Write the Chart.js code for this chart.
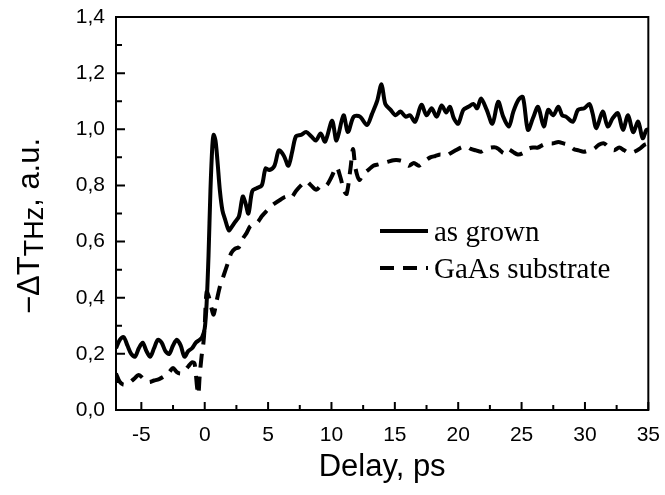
<!DOCTYPE html>
<html>
<head>
<meta charset="utf-8">
<script src="https://cdn.jsdelivr.net/npm/chart.js@4.4.1/dist/chart.umd.min.js"></script>
<style>
  html, body { margin: 0; padding: 0; background: #fff; }
  #wrap { width: 665px; height: 495px; }
</style>
</head>
<body>
<div id="wrap"><canvas id="chart" width="665" height="495"></canvas></div>
<script>
// Delay (ps) und Signal fuer "as grown"
const delayGrown = [-7.0, -6.7, -6.4, -6.1, -5.8, -5.5, -5.2, -4.9, -4.6, -4.3, -4.0, -3.7, -3.4, -3.1, -2.8, -2.5, -2.2, -1.9, -1.6, -1.3, -1.0, -0.7, -0.4, -0.2,
  0.0, 0.15, 0.3, 0.45, 0.6, 0.7, 0.85, 1.0, 1.2, 1.4, 1.6, 1.9, 2.1, 2.4, 2.7, 3.0, 3.2, 3.45, 3.75, 4.1, 4.5, 4.8, 5.1, 5.5, 5.85, 6.25, 6.6, 6.9,
  7.2, 7.6, 8.0, 8.4, 8.76, 9.15, 9.5, 10.05, 10.4, 10.95, 11.3, 11.75, 12.25, 12.8, 13.2, 13.6, 13.95, 14.25, 14.65, 15.05, 15.45, 15.85, 16.2, 16.6,
  17.1, 17.5, 17.9, 18.3, 18.7, 19.05, 19.35, 19.65, 20.0, 20.4, 20.8, 21.2, 21.5, 21.8, 22.25, 22.7, 23.15, 23.55, 24.0, 24.35, 24.75, 25.1, 25.5,
  25.9, 26.3, 26.75, 27.1, 27.5, 27.9, 28.2, 28.5, 29.05, 29.45, 29.95, 30.35, 30.6, 30.9, 31.4, 31.8, 32.2, 32.6, 33.0, 33.4, 33.8, 34.2, 34.55, 34.85, 35.0];
const signalGrown = [0.22, 0.25, 0.26, 0.23, 0.20, 0.19, 0.22, 0.24, 0.21, 0.19, 0.22, 0.25, 0.24, 0.21, 0.20, 0.23, 0.25, 0.23, 0.19, 0.21, 0.22, 0.24, 0.25, 0.26,
  0.29, 0.38, 0.55, 0.78, 0.94, 0.98, 0.96, 0.89, 0.78, 0.71, 0.68, 0.64, 0.65, 0.67, 0.69, 0.76, 0.74, 0.70, 0.78, 0.79, 0.80, 0.86, 0.855, 0.87, 0.925, 0.905, 0.87, 0.92,
  0.975, 0.98, 0.99, 0.975, 0.96, 0.985, 0.956, 1.03, 0.96, 1.05, 0.99, 1.045, 1.045, 1.015, 1.055, 1.10, 1.16, 1.09, 1.07, 1.05, 1.063, 1.045, 1.05, 1.027,
  1.087, 1.05, 1.075, 1.045, 1.085, 1.06, 1.08, 1.04, 1.02, 1.069, 1.08, 1.09, 1.075, 1.11, 1.069, 1.02, 1.098, 1.045, 1.01, 1.063, 1.105, 1.115, 0.998,
  1.04, 1.08, 1.01, 1.069, 1.05, 1.08, 1.05, 1.045, 1.027, 1.069, 1.075, 1.09, 1.057, 1.004, 1.063, 1.01, 1.04, 1.057, 0.998, 1.05, 0.99, 1.027, 0.968, 0.998, 1.0];

// Delay (ps) und Signal fuer "GaAs substrate"
const delaySubstrate = [-7.0, -6.7, -6.4, -6.0, -5.6, -5.2, -4.8, -4.4, -4.0, -3.6, -3.2, -2.8, -2.5, -2.2, -1.9, -1.6, -1.3, -1.0, -0.8, -0.6, -0.5, -0.4, -0.25, -0.1,
  0.0, 0.15, 0.35, 0.55, 0.7, 0.9, 1.2, 1.5, 1.8, 2.1, 2.4, 2.7, 3.0, 3.3, 3.6, 3.9, 4.2, 4.5, 4.8, 5.1, 5.5, 6.0, 6.4, 6.8, 7.2, 7.6, 8.0, 8.4, 8.8, 9.2, 9.6,
  10.0, 10.4, 10.7, 11.0, 11.2, 11.5, 11.7, 11.9, 12.2, 12.5, 12.9, 13.3, 13.7, 14.1, 14.5, 14.9, 15.3, 15.7, 16.1, 16.5, 16.9, 17.3, 17.8, 18.2, 18.6,
  19.0, 19.4, 19.8, 20.2, 20.6, 21.0, 21.4, 21.8, 22.2, 22.6, 23.0, 23.3, 23.6, 23.9, 24.3, 24.7, 25.1, 25.5, 25.9, 26.3, 26.7, 27.1, 27.5, 27.9, 28.3,
  28.7, 29.1, 29.5, 29.9, 30.3, 30.7, 31.1, 31.5, 31.9, 32.3, 32.7, 33.1, 33.5, 33.9, 34.3, 34.7, 35.0];
const signalSubstrate = [0.13, 0.10, 0.09, 0.095, 0.11, 0.125, 0.11, 0.10, 0.105, 0.11, 0.12, 0.135, 0.15, 0.135, 0.13, 0.14, 0.155, 0.17, 0.165, 0.08, 0.055, 0.12, 0.19, 0.24,
  0.30, 0.42, 0.40, 0.36, 0.34, 0.38, 0.44, 0.48, 0.52, 0.56, 0.575, 0.58, 0.61, 0.63, 0.655, 0.66, 0.67, 0.69, 0.705, 0.72, 0.735, 0.75, 0.76, 0.755, 0.78, 0.80, 0.815, 0.80, 0.785, 0.80, 0.80,
  0.83, 0.865, 0.83, 0.78, 0.77, 0.86, 0.93, 0.86, 0.82, 0.84, 0.855, 0.87, 0.875, 0.88, 0.885, 0.89, 0.89, 0.885, 0.87, 0.88, 0.87, 0.885, 0.90, 0.905, 0.91,
  0.905, 0.915, 0.925, 0.935, 0.94, 0.93, 0.925, 0.92, 0.93, 0.935, 0.935, 0.925, 0.915, 0.93, 0.92, 0.91, 0.915, 0.93, 0.935, 0.935, 0.945, 0.95, 0.95, 0.955, 0.95,
  0.945, 0.93, 0.925, 0.92, 0.925, 0.93, 0.945, 0.95, 0.935, 0.925, 0.935, 0.925, 0.915, 0.92, 0.93, 0.945, 0.95];

// Achsen
const xTicks = [-5, 0, 5, 10, 15, 20, 25, 30, 35];
const yTicks = [0, 0.2, 0.4, 0.6, 0.8, 1.0, 1.2, 1.4];
const seriesLabels = ['as grown', 'GaAs substrate'];

const toPoints = (xs, ys) => xs.map((x, i) => ({ x: x, y: ys[i] }));

// Rahmen, Ticks nach innen, Achsentitel und Legende
const decorPlugin = {
  id: 'decor',
  afterDraw(chart) {
    const ctx = chart.ctx;
    const a = chart.chartArea;
    const xs = chart.scales.x, ys = chart.scales.y;
    ctx.save();
    ctx.strokeStyle = '#000';
    ctx.lineWidth = 2;
    ctx.strokeRect(a.left, a.top, a.right - a.left, a.bottom - a.top);

    ctx.beginPath();
    for (let v = -5; v <= 35; v += 2.5) {
      const px = xs.getPixelForValue(v);
      const len = (v % 5 === 0) ? 8 : 5;
      ctx.moveTo(px, a.bottom);
      ctx.lineTo(px, a.bottom - len);
    }
    for (let i = 0; i <= 14; i++) {
      const py = ys.getPixelForValue(i / 10);
      const len = (i % 2 === 0) ? 9 : 6;
      ctx.moveTo(a.left, py);
      ctx.lineTo(a.left + len, py);
    }
    ctx.stroke();

    // y-Titel mit Index
    ctx.fillStyle = '#000';
    ctx.translate(28, 226);
    ctx.rotate(-Math.PI / 2);
    const big = '31px "Liberation Sans", Arial, sans-serif';
    const small = '27px "Liberation Sans", Arial, sans-serif';
    const p1 = '\u2212\u0394T', p2 = 'THz', p3 = ', a.u.';
    ctx.font = big;
    const w1 = ctx.measureText(p1).width, w3 = ctx.measureText(p3).width;
    ctx.font = small;
    const w2 = ctx.measureText(p2).width;
    let sx = -(w1 + w2 + w3) / 2;
    ctx.textBaseline = 'alphabetic';
    ctx.textAlign = 'left';
    ctx.font = big;
    ctx.fillText(p1, sx, 11);
    ctx.font = small;
    ctx.fillText(p2, sx + w1, 15);
    ctx.font = big;
    ctx.fillText(p3, sx + w1 + w2, 11);
    ctx.restore();

    // Legende
    ctx.save();
    ctx.strokeStyle = '#000';
    ctx.lineWidth = 4;
    ctx.font = '29px "Liberation Serif", "Times New Roman", serif';
    ctx.fillStyle = '#000';
    ctx.textBaseline = 'middle';
    chart.data.datasets.forEach((ds, i) => {
      const y = 231 + i * 37;
      ctx.setLineDash(ds.borderDash || []);
      ctx.beginPath();
      ctx.moveTo(380, y);
      ctx.lineTo(428, y);
      ctx.stroke();
      ctx.fillText(ds.label, 434, y + 2);
    });
    ctx.restore();
  }
};

new Chart(document.getElementById('chart'), {
  type: 'line',
  data: {
    datasets: [{
      label: seriesLabels[0],
      data: toPoints(delayGrown, signalGrown),
      borderColor: '#000',
      borderWidth: 4,
      pointRadius: 0,
      tension: 0.3,
      fill: false
    }, {
      label: seriesLabels[1],
      data: toPoints(delaySubstrate, signalSubstrate),
      borderColor: '#000',
      borderWidth: 4,
      borderDash: [14, 9],
      pointRadius: 0,
      tension: 0.3,
      fill: false
    }]
  },
  options: {
    responsive: false,
    animation: false,
    layout: { padding: { top: 17, right: 14, left: 0, bottom: 0 } },
    plugins: { legend: { display: false }, tooltip: { enabled: false } },
    scales: {
      x: {
        type: 'linear',
        min: -7,
        max: 35,
        afterBuildTicks: s => { s.ticks = xTicks.map(v => ({ value: v })); },
        afterFit: s => { s.height = 85; },
        grid: { display: false },
        border: { display: false },
        ticks: { color: '#000', padding: 5, font: { size: 21, family: '"Liberation Sans", Arial, sans-serif' } },
        title: { display: true, text: 'Delay, ps', color: '#000', padding: { top: 0, bottom: 9 },
                 font: { size: 31, family: '"Liberation Sans", Arial, sans-serif' } }
      },
      y: {
        min: 0,
        max: 1.4,
        afterBuildTicks: s => { s.ticks = yTicks.map(v => ({ value: v })); },
        afterFit: s => { s.width = 116; },
        grid: { display: false },
        border: { display: false },
        ticks: { color: '#000', padding: 3, font: { size: 21, family: '"Liberation Sans", Arial, sans-serif' },
                 callback: v => v.toFixed(1).replace('.', ',') }
      }
    }
  },
  plugins: [decorPlugin]
});
</script>
</body>
</html>
